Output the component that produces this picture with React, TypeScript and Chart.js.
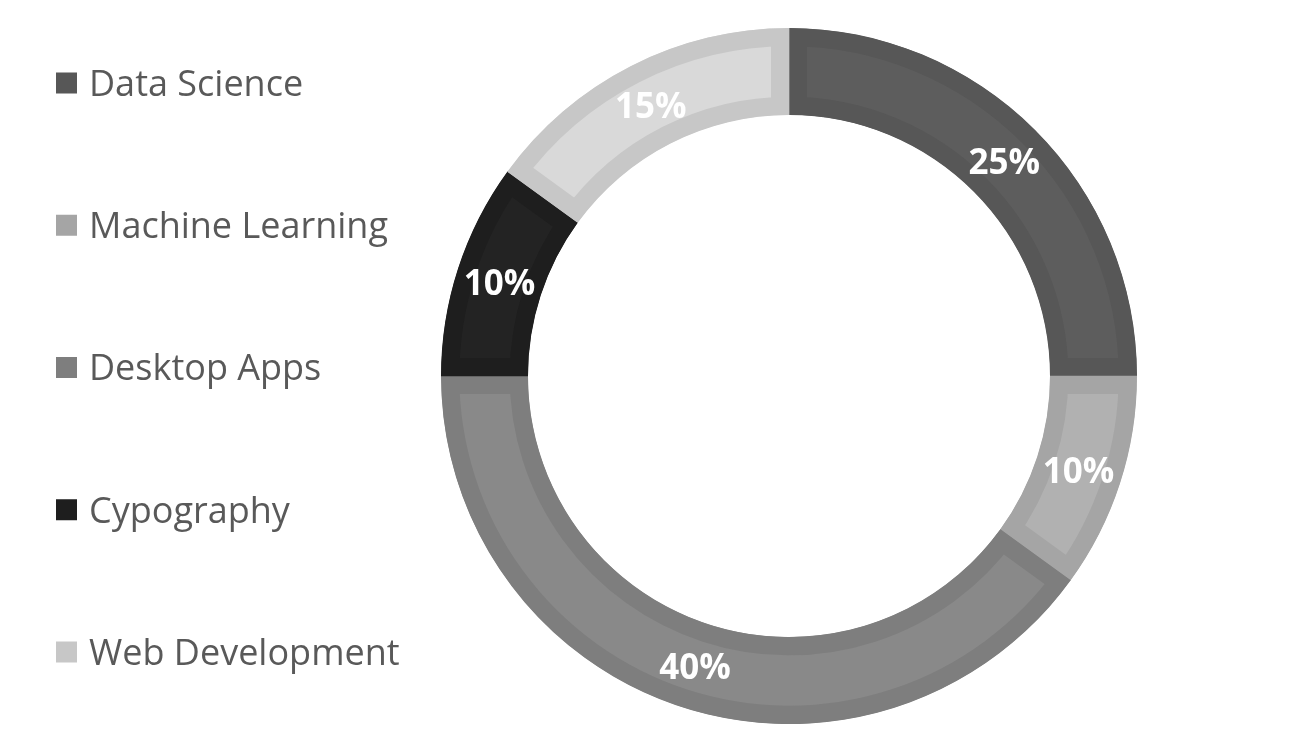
import React, { useEffect, useRef } from "react";
import { Chart, registerables } from "chart.js";

Chart.register(...registerables);

const categories = ["Data Science", "Machine Learning", "Desktop Apps", "Cypography", "Web Development"];
const shares = [25, 10, 40, 10, 15];
const fillColors = ["#5d5d5d", "#b1b1b1", "#898989", "#232323", "#d9d9d9"];
const seriesColors = ["#575757", "#a5a5a5", "#7e7e7e", "#1e1e1e", "#c7c7c7"];

const labelPlugin = {
  id: "sliceLabels",
  afterDatasetsDraw(chart: any) {
    const ctx = chart.ctx;
    const meta = chart.getDatasetMeta(0);
    ctx.save();
    ctx.fillStyle = "#ffffff";
    ctx.font = "bold 35px 'Open Sans'";
    ctx.textAlign = "center";
    ctx.textBaseline = "middle";
    meta.data.forEach((arc: any, i: number) => {
      const p = arc.tooltipPosition();
      ctx.fillText(`${shares[i]}%`, p.x, p.y + 3);
    });
    ctx.restore();
  },
};

const legendPlugin = {
  id: "sideLegend",
  afterDraw(chart: any) {
    const ctx = chart.ctx;
    ctx.save();
    ctx.font = "36px 'Open Sans'";
    ctx.textBaseline = "middle";
    ctx.textAlign = "left";
    const top = 83;
    const step = 142.25;
    categories.forEach((name, i) => {
      const y = top + i * step;
      ctx.fillStyle = seriesColors[i];
      ctx.fillRect(56, y - 10.5, 21, 21);
      ctx.fillStyle = "#595959";
      ctx.fillText(name, 89, y + 2.5);
    });
    ctx.restore();
  },
};

export default function App() {
  const ref = useRef<HTMLCanvasElement | null>(null);
  useEffect(() => {
    if (!ref.current) return;
    const chart = new Chart(ref.current, {
      type: "doughnut",
      data: {
        labels: categories,
        datasets: [
          {
            data: shares,
            backgroundColor: fillColors,
            borderColor: seriesColors,
            borderWidth: 18,
            borderAlign: "inner",
            borderJoinStyle: "miter",
            hoverOffset: 0,
          } as any,
        ],
      },
      options: {
        animation: false,
        responsive: false,
        events: [],
        cutout: "75%",
        layout: { padding: { top: 28, bottom: 28, left: 441, right: 177 } },
        plugins: {
          legend: { display: false },
          tooltip: { enabled: false },
        },
      },
      plugins: [labelPlugin, legendPlugin],
    });
    return () => chart.destroy();
  }, []);
  return (
    <div style={{ position: "fixed", left: 0, top: 0, width: 1314, height: 752, background: "#ffffff" }}>
      <canvas ref={ref} width={1314} height={752} style={{ width: 1314, height: 752, display: "block" }} />
    </div>
  );
}
